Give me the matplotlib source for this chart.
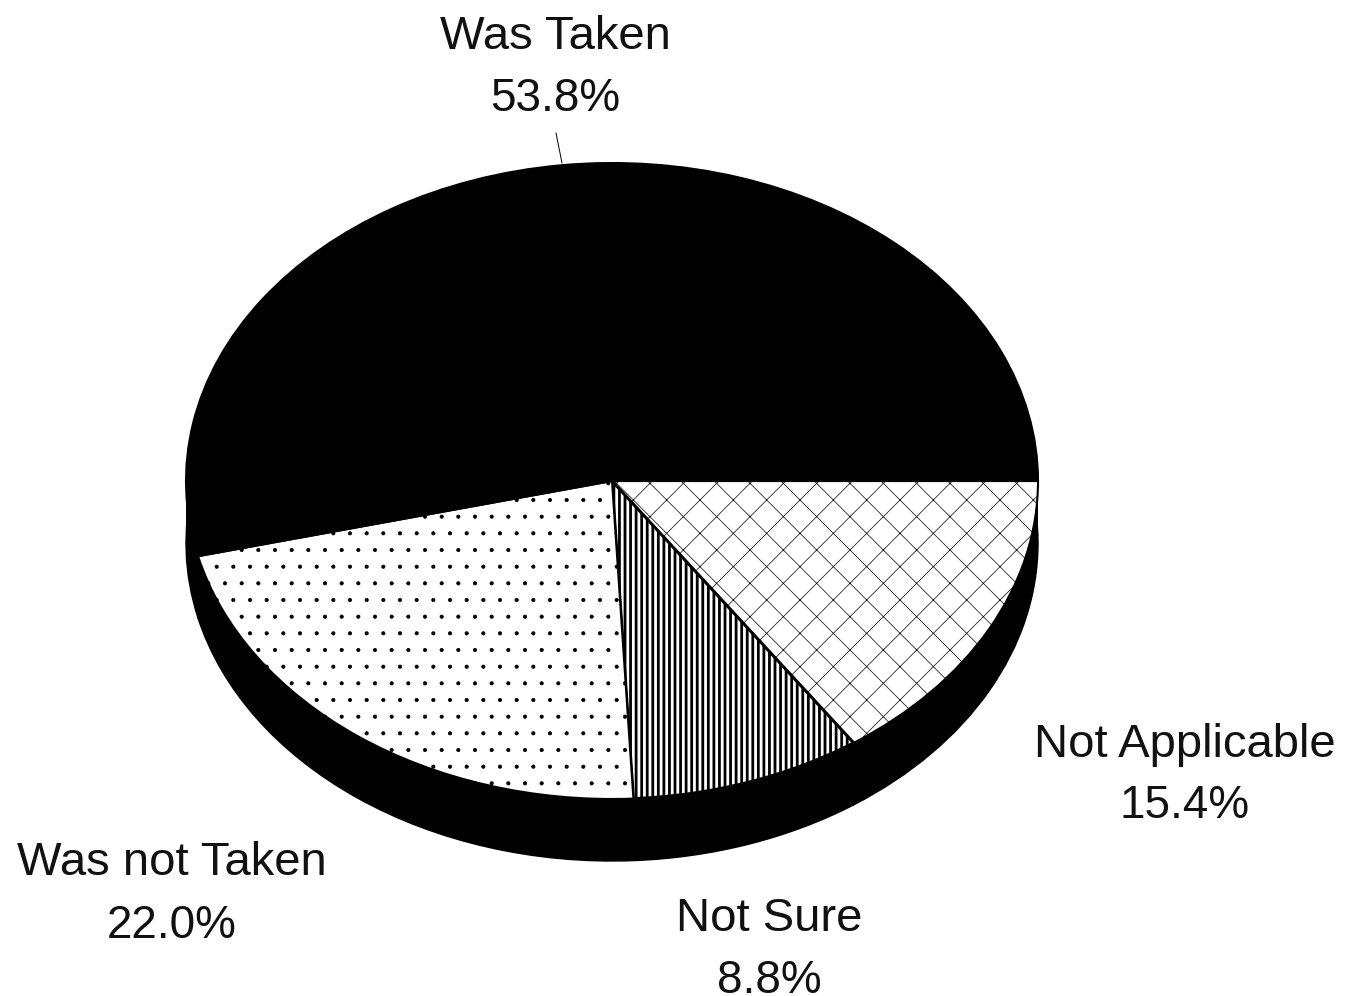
import matplotlib.pyplot as plt

plt.rcParams["font.family"] = ["Liberation Sans", "DejaVu Sans"]
plt.rcParams["hatch.linewidth"] = 0.5

# clockwise from 3 o'clock
labels = ["Not Applicable", "Not Sure", "Was not Taken", "Was Taken"]
values = [15.4, 8.8, 22.0, 53.8]
hatches = ["x", "|||", ".", None]
colors = ["white", "white", "white", "black"]

# where the two text lines of each label sit, in image pixels
label_x = [1185, 769, 172, 555]
name_y = [745, 919, 863, 37]
value_y = [806, 981, 926, 99]

W, H = 1346, 996
cx, cy, rx, ry = 612, 481, 426, 318
depth = 62 / ry

fig = plt.figure(figsize=(W / 100, H / 100), dpi=100)
ax = fig.add_axes([0, 0, 1, 1])


def px(x):
    return (x - cx) / rx


def py(y):
    return (cy - y) / ry


# side of the pie: same pie, pushed down, joined by a black band
ax.pie(values, startangle=0, counterclock=False, center=(0, -depth), colors=["black"] * 4,
       wedgeprops={"edgecolor": "black", "linewidth": 1})
ax.fill_between([-1, 1], -depth, 0, color="black", linewidth=0)

wedges, _ = ax.pie(values, startangle=0, counterclock=False, colors=colors, hatch=hatches,
                   wedgeprops={"edgecolor": "black", "linewidth": 1.5})
for w, h in zip(wedges, hatches):
    if h == "|||":
        w.set_linewidth(2.2)
        if hasattr(w, "set_hatch_linewidth"):
            w.set_hatch_linewidth(2.0)

ax.set_aspect("auto")
ax.set_xlim(px(0), px(W))
ax.set_ylim(py(H), py(0))
ax.axis("off")

# leader line over the top of the pie
ax.plot([px(556), px(562)], [py(133), py(163)], color="black", linewidth=0.7)

for name, val, x, y1, y2 in zip(labels, values, label_x, name_y, value_y):
    ax.text(px(x), py(y1), name, fontsize=34, ha="center", va="center", color="#111111")
    ax.text(px(x), py(y2), f"{val:.1f}%", fontsize=33, ha="center", va="center", color="#111111")

fig.savefig("out.png", dpi=100)
